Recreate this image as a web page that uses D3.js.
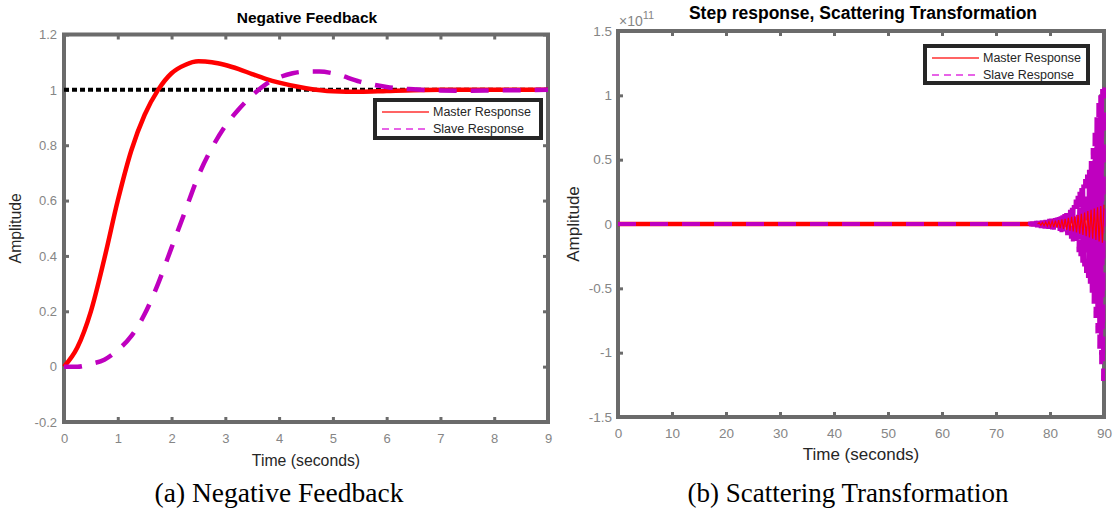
<!DOCTYPE html>
<html>
<head>
<meta charset="utf-8">
<script src="https://cdn.jsdelivr.net/npm/d3@7"></script>
<style>
  body { margin: 0; background: #fff; }
  svg { display: block; }
</style>
</head>
<body>
<svg id="fig" width="1113" height="512"></svg>
<script>
// ---------- (a) Negative Feedback : step responses ----------
const nfTime   = [0, 0.25, 0.5, 0.75, 1.0, 1.25, 1.5, 1.75, 2.0, 2.25, 2.5, 2.75, 3.0, 3.25, 3.5, 3.75, 4.0, 4.5, 5.0, 5.5, 6.0, 6.5, 7.0, 8.0, 9.0];
const nfMaster = [0, 0.07, 0.20, 0.39, 0.60, 0.78, 0.91, 1.00, 1.06, 1.09, 1.103, 1.10, 1.09, 1.075, 1.057, 1.04, 1.026, 1.006, 0.995, 0.993, 0.996, 0.999, 1.0, 1.0, 1.0];
const nfSlaveTime = [0, 0.25, 0.5, 0.75, 1.0, 1.25, 1.5, 1.75, 2.0, 2.25, 2.5, 2.75, 3.0, 3.25, 3.5, 3.75, 4.0, 4.25, 4.5, 4.75, 5.0, 5.5, 6.0, 6.5, 7.0, 7.5, 8.0, 9.0];
const nfSlave  = [0, 0, 0.01, 0.025, 0.06, 0.11, 0.19, 0.30, 0.43, 0.56, 0.69, 0.79, 0.87, 0.93, 0.98, 1.02, 1.045, 1.06, 1.066, 1.066, 1.06, 1.03, 1.01, 1.002, 0.998, 0.997, 0.998, 1.0];
const nfReference = 1;
const nfXTicks = [0, 1, 2, 3, 4, 5, 6, 7, 8, 9];
const nfYTicks = [-0.2, 0, 0.2, 0.4, 0.6, 0.8, 1, 1.2];
const nfYLabels = ["-0.2", "0", "0.2", "0.4", "0.6", "0.8", "1", "1.2"];

// ---------- (b) Scattering Transformation : step responses (units of 1e11) ----------
const stMasterTime = [0, 77.7, 78.0, 78.3, 78.6, 78.9, 79.2, 79.5, 79.8, 80.1, 80.4, 80.7, 81.0, 81.3, 81.6, 81.9, 82.2, 82.5, 82.8, 83.1, 83.4, 83.7, 84.0, 84.3, 84.6, 84.9, 85.2, 85.5, 85.8, 86.1, 86.4, 86.7, 87.0, 87.3, 87.6, 87.9, 88.2, 88.5, 88.8, 89.1, 89.4, 89.7, 90.0];
const stMaster     = [0, 0, 0.010, -0.010, 0.012, -0.013, 0.015, -0.016, 0.018, -0.020, 0.022, -0.025, 0.026, -0.028, 0.030, -0.033, 0.036, -0.038, 0.041, -0.045, 0.048, -0.052, 0.055, -0.058, 0.062, -0.066, 0.070, -0.075, 0.080, -0.085, 0.090, -0.095, 0.100, -0.105, 0.110, -0.115, 0.120, -0.125, 0.130, -0.135, 0.140, -0.145, 0.150];
const stSlaveTime  = [0, 75.8,
  76.000, 76.175, 76.350, 76.525, 76.700, 76.875, 77.050, 77.225, 77.400, 77.575,
  77.750, 77.925, 78.100, 78.275, 78.450, 78.625, 78.800, 78.975, 79.150, 79.325,
  79.500, 79.675, 79.850, 80.025, 80.200, 80.375, 80.550, 80.725, 80.900, 81.075,
  81.250, 81.425, 81.600, 81.775, 81.950, 82.125, 82.300, 82.475, 82.650, 82.825,
  83.000, 83.175, 83.350, 83.525, 83.700, 83.875, 84.050, 84.225, 84.400, 84.575,
  84.750, 84.925, 85.100, 85.275, 85.450, 85.625, 85.800, 85.975, 86.150, 86.325,
  86.500, 86.675, 86.850, 87.025, 87.200, 87.375, 87.550, 87.725, 87.900, 88.075,
  88.250, 88.425, 88.600, 88.775, 88.950, 89.125, 89.300, 89.475, 89.650, 89.825,
  90.000];
const stSlave      = [0, 0,
  0.015, -0.015, 0.016, -0.017, 0.018, -0.019, 0.020, -0.021, 0.022, -0.024,
  0.024, -0.029, 0.026, -0.031, 0.027, -0.033, 0.029, -0.035, 0.031, -0.036,
  0.035, -0.038, 0.039, -0.040, 0.041, -0.042, 0.043, -0.044, 0.045, -0.046,
  0.049, -0.051, 0.054, -0.057, 0.059, -0.063, 0.067, -0.068, 0.076, -0.076,
  0.085, -0.086, 0.097, -0.101, 0.110, -0.115, 0.125, -0.135, 0.155, -0.160,
  0.190, -0.185, 0.220, -0.220, 0.250, -0.250, 0.280, -0.300, 0.310, -0.330,
  0.350, -0.380, 0.385, -0.420, 0.430, -0.470, 0.490, -0.550, 0.590, -0.620,
  0.710, -0.730, 0.830, -0.850, 0.940, -0.970, 1.000, -1.090, 1.050, -1.220,
  1.060];
const stXTicks = [0, 10, 20, 30, 40, 50, 60, 70, 80, 90];
const stYTicks = [-1.5, -1, -0.5, 0, 0.5, 1, 1.5];
const stYLabels = ["-1.5", "-1", "-0.5", "0", "0.5", "1", "1.5"];
const stSwitchTime = 77.7;

const legendNames = ["Master Response", "Slave Response"];

// ---------- styles ----------
const FRAME = "#6b6b6b", TICKTXT = "#858585", INK = "#262626";
const RED = "#ff0000", MAGENTA = "#bf00bf";
const SANS = "'Liberation Sans', Arial, Helvetica, sans-serif";
const SERIF = "'Liberation Serif', 'Times New Roman', serif";

const svg = d3.select("#fig");

function zip(t, v) { return t.map((d, i) => [d, v[i]]); }

function panel(cfg) {
  const x = d3.scaleLinear().domain(cfg.xDomain).range(cfg.xRange);
  const y = d3.scaleLinear().domain(cfg.yDomain).range(cfg.yRange);
  const g = svg.append("g");

  // frame
  g.append("rect")
    .attr("x", cfg.xRange[0]).attr("y", cfg.yRange[1])
    .attr("width", cfg.xRange[1] - cfg.xRange[0])
    .attr("height", cfg.yRange[0] - cfg.yRange[1])
    .attr("fill", "#fff").attr("stroke", FRAME).attr("stroke-width", 4);

  const styleAxis = (sel, withText) => {
    sel.select(".domain").remove();
    sel.selectAll(".tick line").attr("stroke", FRAME).attr("stroke-width", 3);
    sel.selectAll(".tick text")
      .attr("fill", TICKTXT)
      .style("font-family", SANS)
      .style("font-size", cfg.tickFont + "px");
    if (!withText) sel.selectAll(".tick text").remove();
  };

  g.append("g").attr("transform", `translate(0,${cfg.yRange[0]})`)
    .call(d3.axisBottom(x).tickValues(cfg.xTicks).tickSize(-5).tickPadding(cfg.xPad).tickFormat(d3.format("d")))
    .call(s => styleAxis(s, true));
  g.append("g").attr("transform", `translate(0,${cfg.yRange[1]})`)
    .call(d3.axisTop(x).tickValues(cfg.xTicks).tickSize(-5).tickFormat(""))
    .call(s => styleAxis(s, false));
  g.append("g").attr("transform", `translate(${cfg.xRange[0]},0)`)
    .call(d3.axisLeft(y).tickValues(cfg.yTicks).tickSize(-5).tickPadding(cfg.yPad)
      .tickFormat((d, i) => cfg.yLabels[i]))
    .call(s => styleAxis(s, true));
  g.append("g").attr("transform", `translate(${cfg.xRange[1]},0)`)
    .call(d3.axisRight(y).tickValues(cfg.yTicks).tickSize(-5).tickFormat(""))
    .call(s => styleAxis(s, false));

  // titles and labels
  const cx = (cfg.xRange[0] + cfg.xRange[1]) / 2;
  g.append("text").attr("x", cfg.titleX).attr("y", cfg.titleY)
    .attr("text-anchor", "middle").attr("fill", "#000")
    .style("font-family", SANS).style("font-weight", "bold").style("font-size", cfg.titleFont + "px")
    .text(cfg.title);
  g.append("text").attr("x", cx).attr("y", cfg.xLabelY)
    .attr("text-anchor", "middle").attr("fill", INK)
    .style("font-family", SANS).style("font-size", cfg.labelFont + "px")
    .text("Time (seconds)");
  g.append("text")
    .attr("transform", `translate(${cfg.yLabelX},${(cfg.yRange[0] + cfg.yRange[1]) / 2}) rotate(-90)`)
    .attr("text-anchor", "middle").attr("fill", INK)
    .style("font-family", SANS).style("font-size", cfg.labelFont + "px")
    .text("Amplitude");
  g.append("text").attr("x", cfg.captionX).attr("y", 502)
    .attr("text-anchor", "middle").attr("fill", "#000")
    .style("font-family", SERIF).style("font-size", cfg.captionFont + "px")
    .text(cfg.caption);

  return { g, x, y };
}

function legend(g, box) {
  g.append("rect").attr("x", box.x).attr("y", box.y).attr("width", box.w).attr("height", box.h)
    .attr("fill", "#fff").attr("stroke", INK).attr("stroke-width", 4);
  const rows = [
    { name: legendNames[0], color: "#ff3030", dash: null },
    { name: legendNames[1], color: "#e030e0", dash: "7,5" }
  ];
  rows.forEach((r, i) => {
    const yy = box.y + box.row0 + i * box.rowGap;
    g.append("line").attr("x1", box.x + 7).attr("x2", box.x + 54).attr("y1", yy).attr("y2", yy)
      .attr("stroke", r.color).attr("stroke-width", 1.3).attr("stroke-dasharray", r.dash);
    g.append("text").attr("x", box.x + 58).attr("y", yy).attr("dy", "0.35em")
      .attr("fill", INK).style("font-family", SANS).style("font-size", "12.5px")
      .text(r.name);
  });
}

// ---------- panel (a) ----------
const A = panel({
  xDomain: [0, 9], yDomain: [-0.2, 1.2], xRange: [64, 548], yRange: [422, 34.5],
  xTicks: nfXTicks, yTicks: nfYTicks, yLabels: nfYLabels,
  tickFont: 13, xPad: 12, yPad: 7,
  title: "Negative Feedback", titleX: 307, titleY: 23, titleFont: 15.5,
  labelFont: 15.8, xLabelY: 466, yLabelX: 21,
  caption: "(a) Negative Feedback", captionX: 279, captionFont: 27.5
});

const lineA = d3.line().x(d => A.x(d[0])).y(d => A.y(d[1])).curve(d3.curveMonotoneX);
A.g.append("line")
  .attr("x1", A.x(0)).attr("x2", A.x(9)).attr("y1", A.y(nfReference)).attr("y2", A.y(nfReference))
  .attr("stroke", "#000").attr("stroke-width", 4).attr("stroke-dasharray", "5,3");
A.g.append("path").datum(zip(nfTime, nfMaster)).attr("d", lineA)
  .attr("fill", "none").attr("stroke", RED).attr("stroke-width", 4.5);
A.g.append("path").datum(zip(nfSlaveTime, nfSlave)).attr("d", lineA)
  .attr("fill", "none").attr("stroke", MAGENTA).attr("stroke-width", 4.5).attr("stroke-dasharray", "18,14");
legend(A.g, { x: 375, y: 100, w: 166, h: 38, row0: 12, rowGap: 17 });

// ---------- panel (b) ----------
const B = panel({
  xDomain: [0, 90], yDomain: [-1.5, 1.5], xRange: [618, 1104], yRange: [417, 31],
  xTicks: stXTicks, yTicks: stYTicks, yLabels: stYLabels,
  tickFont: 13.5, xPad: 11, yPad: 6,
  title: "Step response, Scattering Transformation", titleX: 863, titleY: 19, titleFont: 17.5,
  labelFont: 17, xLabelY: 460, yLabelX: 579,
  caption: "(b) Scattering Transformation", captionX: 848, captionFont: 27
});

// exponent marker
B.g.append("text").attr("x", 619).attr("y", 26).attr("fill", TICKTXT)
  .style("font-family", SANS).style("font-size", "14px")
  .text("\u00d710")
  .append("tspan").attr("dy", -7).style("font-size", "11px").text("11");

const lineB = d3.line().x(d => B.x(d[0])).y(d => B.y(d[1]));
const masterB = zip(stMasterTime, stMaster);
B.g.append("path").datum(masterB.filter(d => d[0] <= stSwitchTime)).attr("d", lineB)
  .attr("fill", "none").attr("stroke", RED).attr("stroke-width", 4.5);
B.g.append("path").datum(zip(stSlaveTime, stSlave)).attr("d", lineB)
  .attr("fill", "none").attr("stroke", MAGENTA).attr("stroke-width", 4).attr("stroke-dasharray", "18,14");
B.g.append("path").datum(masterB.filter(d => d[0] >= stSwitchTime)).attr("d", lineB)
  .attr("fill", "none").attr("stroke", RED).attr("stroke-width", 1.2);
legend(B.g, { x: 925, y: 46, w: 163, h: 37, row0: 12, rowGap: 17 });
</script>
</body>
</html>
